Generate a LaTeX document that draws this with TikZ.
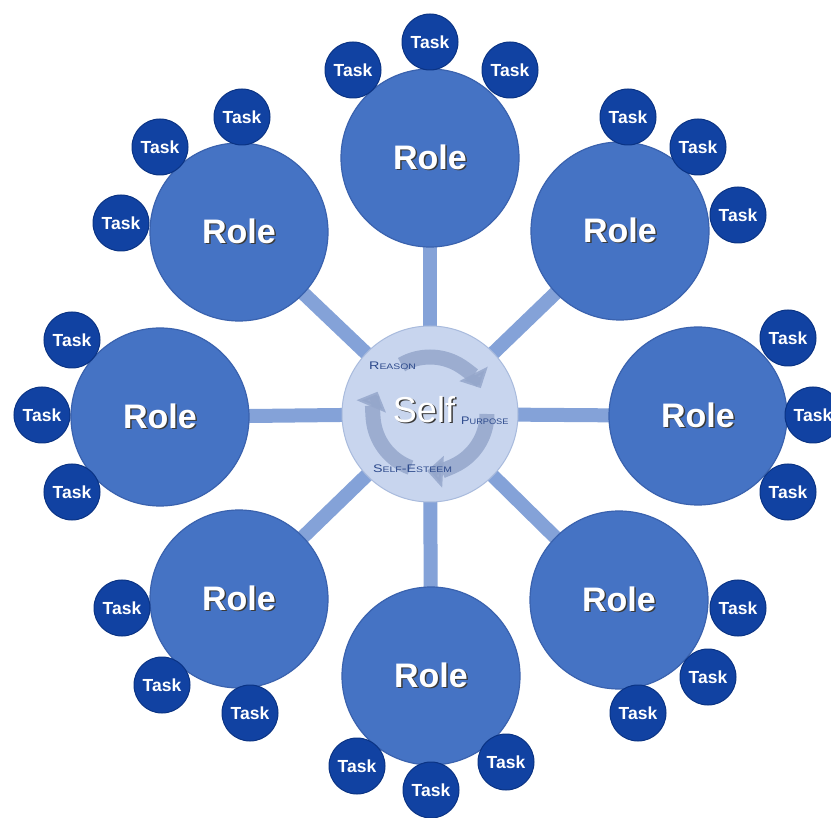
\documentclass[tikz,border=0pt]{standalone}
\usepackage{fontspec}
\setmainfont{Liberation Sans}
\usetikzlibrary{arrows.meta}
\definecolor{rolefill}{HTML}{4573C4}
\definecolor{roleedge}{HTML}{3A62AE}
\definecolor{taskfill}{HTML}{1142A2}
\definecolor{taskedge}{HTML}{0A3384}
\definecolor{selffill}{HTML}{C8D5EE}
\definecolor{selfedge}{HTML}{A9BBDD}
\definecolor{linkcol}{HTML}{84A2D8}
\definecolor{cyclecol}{HTML}{95A7CB}
\definecolor{labcol}{HTML}{2D4A8C}
\definecolor{shadowcol}{HTML}{3A3A3A}
\pgfdeclarelayer{paper}
\pgfdeclarelayer{links}
\pgfsetlayers{paper,links,main}
\newcommand{\shtext}[2]{\rlap{\raisebox{-#2}{\hspace{#2}\textcolor{shadowcol}{#1}}}#1}
\newcommand{\fsc}[2]{{\fontsize{11}{11}\selectfont #1}{\fontsize{8}{8}\selectfont #2}}
\tikzset{
  rolebox/.style={circle, minimum size=178pt, inner sep=0pt, fill=rolefill, draw=roleedge, line width=1.2pt,
    text=white, font=\fontsize{34}{34}\selectfont\bfseries},
  taskbox/.style={circle, minimum size=56pt, inner sep=0pt, fill=taskfill, draw=taskedge, line width=1pt,
    text=white, font=\fontsize{17.5}{17.5}\selectfont\bfseries},
  selfbox/.style={circle, minimum size=176pt, inner sep=0pt, fill=selffill, draw=selfedge, line width=1pt},
  link/.style={draw=linkcol, line width=14pt},
  cyc/.style={draw=cyclecol, line width=15pt, opacity=0.85, -{Triangle[length=16pt,width=31pt]}},
  smallcap/.style={text=labcol, inner sep=0pt},
  selftext/.style={text=white, inner sep=0pt, font=\fontsize{36}{36}\selectfont}
}
\begin{document}
\begin{tikzpicture}[x=1pt,y=-1pt]
\useasboundingbox (0,0) rectangle (831,818);
\clip (0,0) rectangle (831,818);
\begin{pgfonlayer}{paper}
\fill[white] (0,0) rectangle (831,818);
\end{pgfonlayer}
% roles
\node[rolebox] (rN)  at (430,158) {\shtext{Role}{1.5pt}};
\node[rolebox] (rNE) at (620,231) {\shtext{Role}{1.5pt}};
\node[rolebox] (rE)  at (698,416) {\shtext{Role}{1.5pt}};
\node[rolebox] (rSE) at (619,600) {\shtext{Role}{1.5pt}};
\node[rolebox] (rS)  at (431,676) {\shtext{Role}{1.5pt}};
\node[rolebox] (rSW) at (239,599) {\shtext{Role}{1.5pt}};
\node[rolebox] (rW)  at (160,417) {\shtext{Role}{1.5pt}};
\node[rolebox] (rNW) at (239,232) {\shtext{Role}{1.5pt}};
% self
\node[selfbox] (self) at (430,414) {};
% links (behind)
\begin{pgfonlayer}{links}
\foreach \r in {rN,rNE,rE,rSE,rS,rSW,rW,rNW}
  \draw[link] (self.center) -- (\r.center);
\end{pgfonlayer}
% cycle arrows inside self
\draw[cyc] ([shift={(110:57)}]self.center) arc[start angle=110, end angle=203, radius=57];
\draw[cyc] ([shift={(240:57)}]self.center) arc[start angle=240, end angle=333, radius=57];
\draw[cyc] ([shift={(0:57)}]self.center) arc[start angle=0, end angle=93, radius=57];
% labels in self
\node[smallcap, anchor=west] (reason) at (369,366) {\scalebox{1.3}[1]{\fsc{R}{EASON}}};
\node[smallcap, anchor=west] (purpose) at (461,421) {\scalebox{1.15}[1]{\fsc{P}{URPOSE}}};
\node[smallcap, anchor=west] (esteem) at (373,469) {\scalebox{1.3}[1]{\fsc{S}{ELF}\fsc{-E}{STEEM}}};
\node[selftext] (selflab) at (424,410) {\shtext{Self}{1.5pt}};
% tasks
\node[taskbox] (tN1) at (353,70) {Task};
\node[taskbox] (tN2) at (430,42) {Task};
\node[taskbox] (tN3) at (510,70) {Task};
\node[taskbox] (tNE1) at (628,117) {Task};
\node[taskbox] (tNE2) at (698,147) {Task};
\node[taskbox] (tNE3) at (738,215) {Task};
\node[taskbox] (tE1) at (788,338) {Task};
\node[taskbox] (tE2) at (813,415) {Task};
\node[taskbox] (tE3) at (788,492) {Task};
\node[taskbox] (tSE1) at (738,608) {Task};
\node[taskbox] (tSE2) at (708,677) {Task};
\node[taskbox] (tSE3) at (638,713) {Task};
\node[taskbox] (tS1) at (357,766) {Task};
\node[taskbox] (tS2) at (431,790) {Task};
\node[taskbox] (tS3) at (506,762) {Task};
\node[taskbox] (tSW1) at (122,608) {Task};
\node[taskbox] (tSW2) at (162,685) {Task};
\node[taskbox] (tSW3) at (250,713) {Task};
\node[taskbox] (tW1) at (72,340) {Task};
\node[taskbox] (tW2) at (42,415) {Task};
\node[taskbox] (tW3) at (72,492) {Task};
\node[taskbox] (tNW1) at (121,223) {Task};
\node[taskbox] (tNW2) at (160,147) {Task};
\node[taskbox] (tNW3) at (242,117) {Task};
\end{tikzpicture}
\end{document}
